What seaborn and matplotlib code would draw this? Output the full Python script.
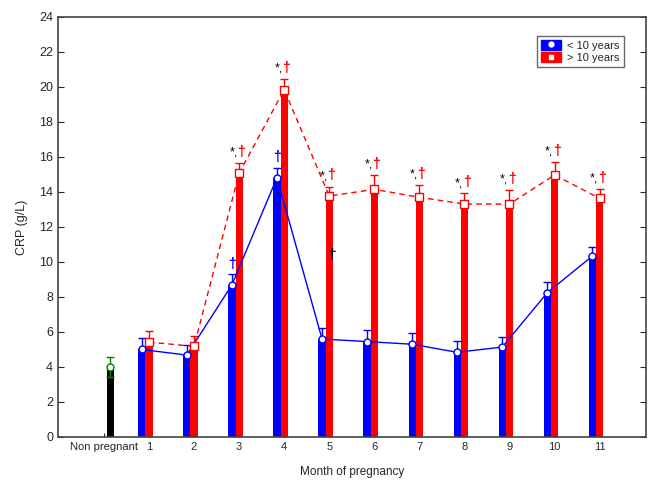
import numpy as np
import pandas as pd
import seaborn as sns
import matplotlib.pyplot as plt
from matplotlib.patches import Patch
from matplotlib.lines import Line2D
from matplotlib.legend_handler import HandlerTuple

# data
months = [str(m) for m in range(1, 12)]
categories = ['Non pregnant'] + months
under10 = [5.0, 4.68, 8.69, 14.82, 5.6, 5.45, 5.3, 4.84, 5.14, 8.25, 10.34]
under10_err = [0.63, 0.57, 0.62, 0.57, 0.62, 0.66, 0.62, 0.66, 0.59, 0.63, 0.53]
over10 = [5.42, 5.18, 15.07, 19.85, 13.77, 14.15, 13.7, 13.31, 13.31, 14.97, 13.64]
over10_err = [0.66, 0.59, 0.57, 0.6, 0.53, 0.8, 0.7, 0.61, 0.79, 0.73, 0.51]
nonpreg = 4.0
nonpreg_err = 0.57
star_months = ['3', '4', '5', '6', '7', '8', '9', '10', '11']
blue_dagger_months = ['3', '4']
black_dagger = ('5', 10.4)

df = pd.DataFrame({
    'month': months * 2,
    'group': ['< 10 years'] * 11 + ['> 10 years'] * 11,
    'crp': under10 + over10,
})

sns.set_style('white')
plt.rcParams['font.family'] = ['Liberation Sans', 'DejaVu Sans']

fig = plt.figure(figsize=(6.58, 4.91), dpi=100)
ax = fig.add_axes([0.0881, 0.110, 0.8937, 0.8554])

sns.barplot(data=df, x='month', y='crp', hue='group', order=categories,
            hue_order=['< 10 years', '> 10 years'],
            palette={'< 10 years': 'blue', '> 10 years': 'red'},
            width=0.32, gap=0, errorbar=None, saturation=1, legend=False,
            linewidth=0, ax=ax)

# non pregnant bar
ax.bar(0.22, nonpreg, width=0.16, color='black', linewidth=0, zorder=2)
ax.errorbar(0.22, nonpreg, yerr=nonpreg_err, color='green', capsize=3,
            lw=1, marker='o', ms=5, mfc='white', mec='green', zorder=4)

xb = np.arange(1, 12) - 0.08
xr = np.arange(1, 12) + 0.08

ax.errorbar(xb, under10, yerr=[np.zeros(11), under10_err], fmt='none',
            ecolor='blue', capsize=3, lw=1, zorder=3)
ax.errorbar(xr, over10, yerr=[np.zeros(11), over10_err], fmt='none',
            ecolor='red', capsize=3, lw=1, zorder=3)
ax.plot(xb, under10, color='blue', lw=1, marker='o', ms=5, mfc='white',
        mec='blue', zorder=4)
ax.plot(xr, over10, color='red', lw=1, ls=(0, (4, 3)), marker='s', ms=5.5,
        mfc='white', mec='red', zorder=4)

# significance marks
for m in star_months:
    i = months.index(m)
    top = over10[i] + over10_err[i] + 0.25
    ax.text(xr[i] - 0.03, top, '*,', ha='right', va='bottom', fontsize=9,
            color='black', zorder=5)
    ax.text(xr[i] - 0.04, top, '\u2020', ha='left', va='bottom', fontsize=10,
            color='red', fontweight='bold', zorder=5)
for m in blue_dagger_months:
    i = months.index(m)
    top = under10[i] + under10_err[i] + 0.2
    ax.text(xb[i], top, '\u2020', ha='center', va='bottom', fontsize=10,
            color='blue', fontweight='bold', zorder=5)
i = months.index(black_dagger[0])
ax.text(xr[i] + 0.06, black_dagger[1], '\u2020', ha='center', va='center',
        fontsize=11, color='black', fontweight='bold', zorder=5)

ax.set_xticks(np.arange(12) + 0.08)
ax.set_xticklabels(categories, fontsize=8)
ax.set_xlim(-0.94, 12.11)
ax.set_ylim(0, 24)
ax.set_yticks(range(0, 25, 2))
ax.tick_params(axis='y', labelsize=9, direction='in', right=True, left=True,
               length=4, width=0.8)
ax.tick_params(axis='x', direction='in', bottom=True, length=3, width=0.8)
ax.set_xlabel('Month of pregnancy', fontsize=8.5, labelpad=10)
ax.set_ylabel('CRP (g/L)', fontsize=9, labelpad=8)
for s in ax.spines.values():
    s.set_color('#444444')
    s.set_linewidth(1.2)

h1 = (Patch(color='blue'), Line2D([], [], ls='none', marker='o', ms=3.5,
                                  mfc='white', mec='white'))
h2 = (Patch(color='red'), Line2D([], [], ls='none', marker='s', ms=3.5,
                                 mfc='white', mec='white'))
leg = ax.legend([h1, h2], ['< 10 years', '> 10 years'],
                handler_map={tuple: HandlerTuple(ndivide=1, pad=0)},
                loc='upper right', bbox_to_anchor=(0.962, 0.955), fontsize=8,
                frameon=True, fancybox=False, handlelength=1.8,
                handleheight=1.0, borderpad=0.35, labelspacing=0.15,
                handletextpad=0.6, borderaxespad=0)
leg.get_frame().set_edgecolor('#444444')
leg.get_frame().set_linewidth(1.0)

fig.savefig('out.png', dpi=100)
